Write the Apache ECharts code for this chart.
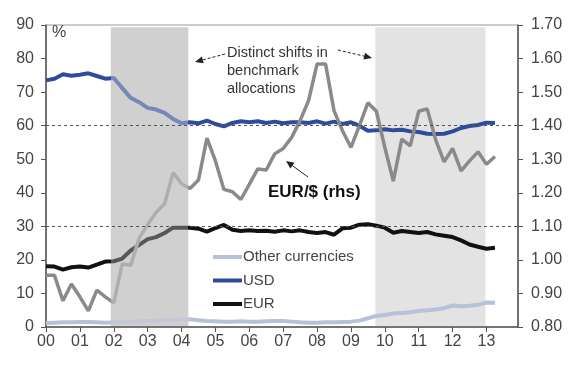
<!DOCTYPE html>
<html>
<head>
<meta charset="utf-8">
<script src="https://cdn.jsdelivr.net/npm/echarts@6/dist/echarts.min.js"></script>
<style>
html,body{margin:0;padding:0;background:#fff;}
#chart{width:582px;height:392px;}
</style>
</head>
<body>
<div id="chart"></div>
<script>
// Quarterly dates (decimal years)
const quarters = [
  2000.00,2000.25,2000.50,2000.75,2001.00,2001.25,2001.50,2001.75,
  2002.00,2002.25,2002.50,2002.75,2003.00,2003.25,2003.50,2003.75,
  2004.00,2004.25,2004.50,2004.75,2005.00,2005.25,2005.50,2005.75,
  2006.00,2006.25,2006.50,2006.75,2007.00,2007.25,2007.50,2007.75,
  2008.00,2008.25,2008.50,2008.75,2009.00,2009.25,2009.50,2009.75,
  2010.00,2010.25,2010.50,2010.75,2011.00,2011.25,2011.50,2011.75,
  2012.00,2012.25,2012.50,2012.75,2013.00,2013.25
];
// Shares of benchmark allocations, %
const usdShare = [
  73.5,74.0,75.3,74.9,75.2,75.6,74.8,74.0,
  74.2,71.2,68.3,67.0,65.3,64.8,63.8,62.0,
  60.7,61.0,60.7,61.5,60.5,59.8,60.8,61.3,
  61.0,61.3,60.8,61.2,60.7,61.0,61.0,60.8,
  61.3,60.6,61.2,60.5,61.0,60.0,58.5,58.6,
  58.9,58.6,58.8,58.3,58.1,57.6,57.5,57.6,
  58.3,59.3,59.9,60.2,60.9,60.8
];
const eurShare = [
  18.1,18.0,17.1,17.8,18.0,17.7,18.6,19.5,
  19.6,20.4,22.8,24.5,26.2,26.8,28.0,29.6,
  29.6,29.6,29.3,28.4,29.5,30.4,29.0,28.6,
  28.8,28.6,28.7,28.4,28.8,28.5,28.8,28.3,
  28.0,28.3,27.5,29.4,29.6,30.5,30.6,30.2,
  29.6,28.1,28.6,28.3,28.0,28.3,27.6,27.2,
  26.8,25.8,24.6,23.9,23.3,23.6
];
const otherShare = [
  1.2,1.3,1.4,1.4,1.5,1.5,1.4,1.3,
  1.4,1.5,1.6,1.7,1.8,1.9,2.0,2.1,
  2.2,2.3,2.0,1.8,1.7,1.6,1.6,1.7,
  1.6,1.6,1.7,1.8,1.8,1.6,1.4,1.3,
  1.3,1.4,1.4,1.5,1.6,1.9,2.6,3.3,
  3.6,4.0,4.2,4.4,4.8,5.0,5.2,5.6,
  6.4,6.2,6.3,6.6,7.3,7.2
];
// EUR/$ exchange rate (rhs)
const eurUsd = [
  0.954,0.954,0.878,0.928,0.890,0.848,0.910,0.890,
  0.872,0.988,0.984,1.065,1.105,1.142,1.167,1.260,
  1.227,1.213,1.238,1.363,1.295,1.210,1.203,1.180,
  1.225,1.271,1.268,1.316,1.332,1.365,1.415,1.475,
  1.584,1.584,1.445,1.385,1.335,1.400,1.468,1.443,
  1.335,1.235,1.360,1.340,1.443,1.450,1.358,1.292,
  1.332,1.265,1.295,1.322,1.285,1.308
];
// Periods of distinct shifts in benchmark allocations
const shiftPeriods = [[2001.91, 2004.20], [2009.72, 2012.97]];
const shadeTop = 89.3;
const refLevels = [60, 30];

const pair = (xs, ys) => xs.map((x, i) => [x, ys[i]]);

const chart = echarts.init(document.getElementById('chart'));
const axisCol = '#555';
const labelCol = '#444';
const font = 'Liberation Sans, Arial, sans-serif';

function arrow(x1, y1, x2, y2, dashed) {
  const ang = Math.atan2(y2 - y1, x2 - x1);
  const L = 8, W = 3.5;
  const bx = x2 - L * Math.cos(ang), by = y2 - L * Math.sin(ang);
  const px = -Math.sin(ang) * W, py = Math.cos(ang) * W;
  return [
    { type: 'line', shape: { x1: x1, y1: y1, x2: bx, y2: by },
      style: { stroke: '#222', lineWidth: 1, lineDash: dashed ? [3, 2] : null }, z: 20 },
    { type: 'polygon', shape: { points: [[x2, y2], [bx + px, by + py], [bx - px, by - py]] },
      style: { fill: '#222' }, z: 20 }
  ];
}

function shadeSeries(name, period, fill) {
  return {
    name: name, type: 'custom', yAxisIndex: 0, silent: true, z: 0,
    encode: { x: [0, 1], y: [2, 3] },
    data: [[period[0], period[1], 0, shadeTop]],
    renderItem: (params, api) => {
      const p0 = api.coord([api.value(0), api.value(3)]);
      const p1 = api.coord([api.value(1), api.value(2)]);
      return { type: 'rect', shape: { x: p0[0], y: p0[1], width: p1[0] - p0[0], height: p1[1] - p0[1] },
               style: { fill: fill } };
    }
  };
}

// Lines look faded inside the dark shaded period (the shading covers them in the original)
const lineDefs = [
  { name: 'Other currencies', data: otherShare, axis: 0, color: '#b7c1d9', faded: '#c3c8d4', width: 4 },
  { name: 'USD', data: usdShare, axis: 0, color: '#2f4b9c', faded: '#7887b6', width: 4 },
  { name: 'EUR', data: eurShare, axis: 0, color: '#111111', faded: '#575757', width: 4 },
  { name: 'EUR/$', data: eurUsd, axis: 1, color: '#8a8a8a', faded: '#aeaeae', width: 3.5 }
];

const lineSeries = lineDefs.map(d => ({
  name: d.name, type: 'line', yAxisIndex: d.axis, symbol: 'none', z: 2,
  data: pair(quarters, d.data),
  lineStyle: { width: d.width }, itemStyle: { color: d.color }
}));

const visualMaps = lineDefs.map((d, i) => ({
  type: 'piecewise', show: false, seriesIndex: i + 2, dimension: 0,
  pieces: [
    { lt: shiftPeriods[0][0], color: d.color },
    { gte: shiftPeriods[0][0], lte: shiftPeriods[0][1], color: d.faded },
    { gt: shiftPeriods[0][1], color: d.color }
  ]
}));

const option = {
  animation: false,
  backgroundColor: '#fff',
  textStyle: { fontFamily: font },
  grid: { left: 46, right: 64, top: 25, bottom: 65, show: true, borderColor: '#999', borderWidth: 1, backgroundColor: 'transparent' },
  legend: {
    orient: 'vertical', left: 213, top: 249, itemGap: 7.5, padding: 0,
    itemWidth: 29, itemHeight: 4, icon: 'rect',
    textStyle: { color: labelCol, fontSize: 15, fontFamily: font, lineHeight: 16, padding: [0, 0, 0, -4] },
    data: [
      { name: 'Other currencies', itemStyle: { color: '#b7c1d9' } },
      { name: 'USD', itemStyle: { color: '#2f4b9c' } },
      { name: 'EUR', itemStyle: { color: '#111111' } }
    ]
  },
  visualMap: visualMaps,
  xAxis: {
    type: 'value', min: 2000, max: 2013.93, interval: 1,
    axisLine: { show: true, lineStyle: { color: axisCol, width: 1.5 } },
    axisTick: { show: true, inside: false, length: 5, lineStyle: { color: axisCol } },
    splitLine: { show: false },
    axisLabel: {
      color: labelCol, fontSize: 16, margin: 7, showMaxLabel: false,
      formatter: v => (Math.abs(v - Math.round(v)) < 1e-6) ? String(Math.round(v) % 100).padStart(2, '0') : ''
    }
  },
  yAxis: [
    {
      type: 'value', min: 0, max: 90, interval: 10, position: 'left',
      axisLine: { show: true, lineStyle: { color: axisCol, width: 1.5 } },
      axisTick: { show: true, inside: false, length: 5, lineStyle: { color: axisCol } },
      splitLine: { show: false },
      axisLabel: { color: labelCol, fontSize: 16, margin: 12 }
    },
    {
      type: 'value', min: 0.8, max: 1.7, interval: 0.1, position: 'right',
      axisLine: { show: true, lineStyle: { color: axisCol, width: 1.5 } },
      axisTick: { show: true, inside: false, length: 5, lineStyle: { color: axisCol } },
      splitLine: { show: false },
      axisLabel: { color: labelCol, fontSize: 16, margin: 13, formatter: v => v.toFixed(2) }
    }
  ],
  graphic: [
    { type: 'text', left: 52, top: 25, style: { text: '%', fill: labelCol, font: '16px ' + font }, z: 20 },
    { type: 'text', left: 227, top: 44, style: { text: 'Distinct shifts in\nbenchmark\nallocations', fill: '#333', font: '14.5px ' + font, lineHeight: 18 }, z: 20 },
    { type: 'text', left: 268, top: 184, style: { text: 'EUR/$ (rhs)', fill: '#111', font: 'bold 17px ' + font }, z: 20 },
    ...arrow(225, 54, 195, 62, true),
    ...arrow(338, 50, 372, 58, true),
    ...arrow(308, 177, 286, 161, false)
  ],
  series: [
    shadeSeries('light shift', shiftPeriods[1], '#e3e3e3'),
    shadeSeries('dark shift', shiftPeriods[0], '#d0d0d0'),
    ...lineSeries,
    {
      name: 'reference levels', type: 'line', data: [], yAxisIndex: 0, silent: true, z: 5,
      markLine: {
        silent: true, symbol: 'none', z: 5,
        label: { show: false },
        lineStyle: { color: '#555', type: [3, 3], width: 1 },
        data: refLevels.map(v => ({ yAxis: v }))
      }
    }
  ]
};
chart.setOption(option);
</script>
</body>
</html>
